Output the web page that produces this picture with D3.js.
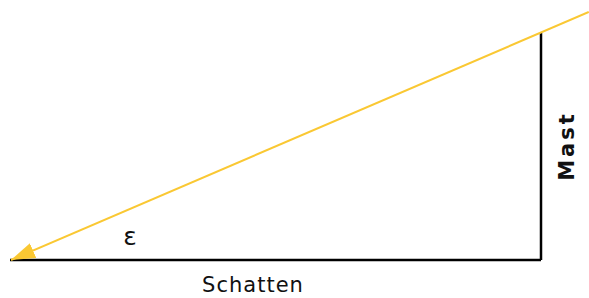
<!DOCTYPE html>
<html>
<head>
<meta charset="utf-8">
<script src="https://cdn.jsdelivr.net/npm/d3@7"></script>
<style>
  html, body { margin: 0; padding: 0; background: #fff; }
  text { font-family: "DejaVu Sans", Verdana, sans-serif; }
</style>
</head>
<body>
<div id="chart"></div>
<script>
const width = 589;
const height = 298;

// Geometrie in relativen Einheiten (Schattenlänge = 100)
const shadowX = [0, 100];          // Schattenende, Mastfuß
const mastY = [0, 42.75];          // Mastfuß, Mastspitze
const rayStart = [109, 46.7];      // Sonnenstrahl kommt von rechts oben
const rayEnd = [0, 0];             // trifft am Schattenende auf
const labels = ["Schatten", "Mast", "ε"];

const x = d3.scaleLinear().domain([0, 100]).range([10, 541]);
const y = d3.scaleLinear().domain([0, 42.75]).range([260, 33]);

const svg = d3.create("svg")
    .attr("width", width)
    .attr("height", height);

svg.append("defs").append("marker")
    .attr("id", "arrow")
    .attr("viewBox", "0 0 12 8")
    .attr("refX", 12)
    .attr("refY", 4)
    .attr("markerWidth", 12)
    .attr("markerHeight", 8)
    .attr("markerUnits", "strokeWidth")
    .attr("orient", "auto")
    .append("path")
    .attr("d", "M0,0 L12,4 L0,8 Z")
    .attr("fill", "#fac833");

// Schatten (Boden)
svg.append("line")
    .attr("x1", x(shadowX[0]))
    .attr("x2", x(shadowX[1]))
    .attr("y1", y(0))
    .attr("y2", y(0))
    .attr("stroke", "black")
    .attr("stroke-width", 2.5);

// Mast
svg.append("line")
    .attr("x1", x(shadowX[1]))
    .attr("x2", x(shadowX[1]))
    .attr("y1", y(mastY[0]))
    .attr("y2", y(mastY[1]))
    .attr("stroke", "black")
    .attr("stroke-width", 2.5);

// Sonnenstrahl
svg.append("line")
    .attr("x1", x(rayStart[0]))
    .attr("y1", y(rayStart[1]))
    .attr("x2", x(rayEnd[0]) + 1)
    .attr("y2", y(rayEnd[1]))
    .attr("stroke", "#fac833")
    .attr("stroke-width", 2)
    .attr("marker-end", "url(#arrow)");

svg.append("text")
    .attr("x", 253)
    .attr("y", 292)
    .attr("text-anchor", "middle")
    .attr("font-size", 21)
    .attr("letter-spacing", 1)
    .attr("fill", "#111")
    .text(labels[0]);

svg.append("text")
    .attr("transform", `translate(574,146) rotate(-90)`)
    .attr("text-anchor", "middle")
    .attr("font-size", 21)
    .attr("font-weight", "bold")
    .attr("letter-spacing", 3)
    .attr("fill", "#111")
    .text(labels[1]);

svg.append("text")
    .attr("x", 130)
    .attr("y", 245)
    .attr("text-anchor", "middle")
    .attr("font-size", 25)
    .attr("fill", "#111")
    .text(labels[2]);

d3.select("#chart").append(() => svg.node());
</script>
</body>
</html>
